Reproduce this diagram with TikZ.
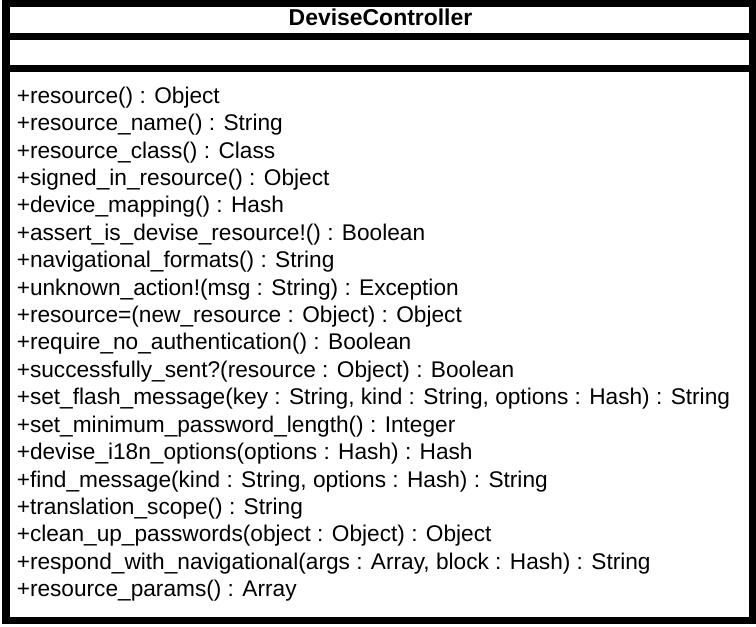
\documentclass[tikz,border=0pt]{standalone}
\usepackage{fontspec}
\setmainfont{Liberation Sans}
\begin{document}
\begin{tikzpicture}[x=0.75pt,y=-0.75pt,
  frame/.style={draw=black,line width=5.6pt},
  classname/.style={anchor=base,inner sep=0pt,font=\fontsize{17.2}{20}\selectfont\bfseries},
  member/.style={anchor=base west,inner sep=0pt,font=\fontsize{17}{20}\selectfont}]
\useasboundingbox (0,0) rectangle (756,627);
% class box with its three compartments
\draw[frame] (6,3.7) rectangle (752.3,620.3);
\draw[frame] (6,36.5) -- (752.3,36.5);
\draw[frame] (6,68.5) -- (752.3,68.5);
% class name
\node[classname] (title) at (380.5,25.7) {DeviseController};
% operations
\foreach \txt [count=\i] in {
  {+resource() : Object},
  {+resource\_name() : String},
  {+resource\_class() : Class},
  {+signed\_in\_resource() : Object},
  {+device\_mapping() : Hash},
  {+assert\_is\_devise\_resource!() : Boolean},
  {+navigational\_formats() : String},
  {+unknown\_action!(msg : String) : Exception},
  {+resource=(new\_resource : Object) : Object},
  {+require\_no\_authentication() : Boolean},
  {+successfully\_sent?(resource : Object) : Boolean},
  {+set\_flash\_message(key : String, kind : String, options : Hash) : String},
  {+set\_minimum\_password\_length() : Integer},
  {+devise\_i18n\_options(options : Hash) : Hash},
  {+find\_message(kind : String, options : Hash) : String},
  {+translation\_scope() : String},
  {+clean\_up\_passwords(object : Object) : Object},
  {+respond\_with\_navigational(args : Array, block : Hash) : String},
  {+resource\_params() : Array}}
  \node[member] (m\i) at (16.5,{103.3+27.41*(\i-1)}) {\txt};
\end{tikzpicture}
\end{document}
